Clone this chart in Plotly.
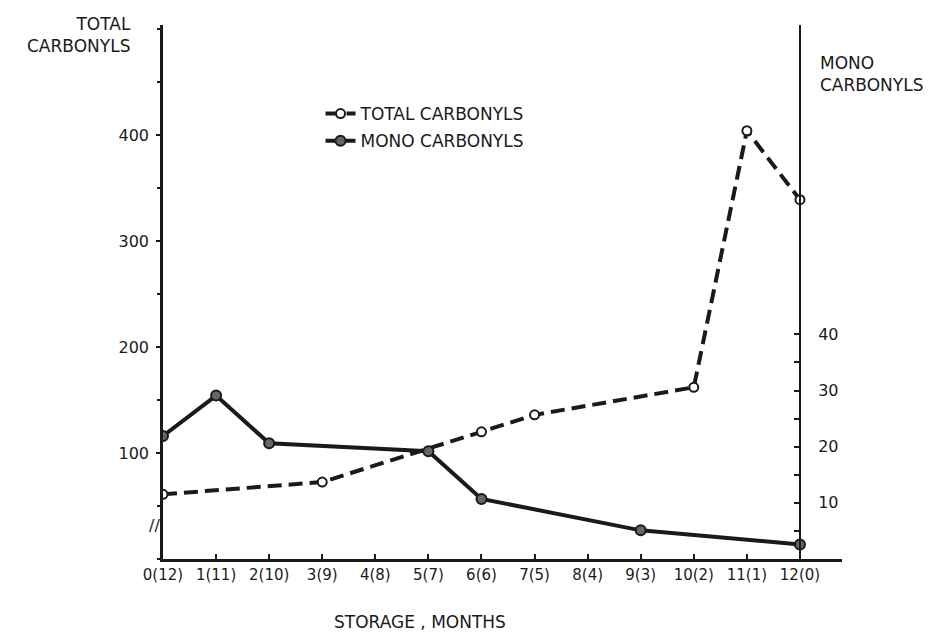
import plotly.graph_objects as go

# ---- data ----
month_ticks = list(range(13))
month_labels = ["0(12)", "1(11)", "2(10)", "3(9)", "4(8)", "5(7)", "6(6)",
                "7(5)", "8(4)", "9(3)", "10(2)", "11(1)", "12(0)"]

total_x = [0, 3, 6, 7, 10, 11, 12]
total_y = [61, 72.6, 120, 136, 162, 404, 339]

mono_x = [0, 1, 2, 5, 6, 9, 12]
mono_y = [21.9, 29.1, 20.6, 19.2, 10.7, 5.1, 2.6]

left_ticks = [100, 200, 300, 400]
right_ticks = [10, 20, 30, 40]
right_tick_marks = [5, 10, 15, 20, 25, 30, 35, 40]

FONT = "DejaVu Sans"
INK = "#1a1a1a"

fig = go.Figure()

fig.add_trace(go.Scatter(
    x=total_x, y=total_y, name="TOTAL CARBONYLS", mode="lines+markers",
    legendgroup="total",
    line=dict(color=INK, width=4, dash="14px,7px"),
    marker=dict(symbol="circle", size=9, color="white",
                line=dict(color=INK, width=2)),
    yaxis="y"))

fig.add_trace(go.Scatter(
    x=mono_x, y=mono_y, name="MONO CARBONYLS", mode="lines+markers",
    legendgroup="mono",
    line=dict(color=INK, width=4),
    marker=dict(symbol="circle", size=10, color="#666666",
                line=dict(color=INK, width=2)),
    yaxis="y2"))

PW = 679.0   # plot width in px
PH = 534.0   # plot height in px

fig.update_layout(
    width=931, height=625,
    margin=dict(l=155, r=97, t=17, b=74),
    paper_bgcolor="white", plot_bgcolor="white",
    font=dict(family=FONT, size=15, color=INK),
    showlegend=True,
    legend=dict(x=0.232, y=1 - (96 - 25) / PH, xanchor="left", yanchor="top",
                bgcolor="rgba(0,0,0,0)", font=dict(size=17, family=FONT),
                traceorder="grouped", tracegroupgap=2),
    xaxis=dict(
        range=[0, PW / 53.08], tickmode="array", tickvals=month_ticks,
        ticktext=month_labels, ticks="inside", ticklen=5, tickwidth=2,
        tickcolor=INK, showline=True, linecolor=INK, linewidth=2.5,
        showgrid=False, zeroline=False, tickfont=dict(size=15),
    ),
    yaxis=dict(
        range=[0, PH / 1.06], tickmode="array", tickvals=left_ticks,
        ticks="outside", ticklen=4, tickwidth=2, tickcolor=INK,
        showline=True, linecolor=INK, linewidth=2.5, showgrid=False,
        zeroline=False, tickfont=dict(size=16), ticklabelstandoff=4,
        minor=dict(dtick=50, ticks="outside", ticklen=3, tickcolor=INK,
                   showgrid=False),
    ),
    yaxis2=dict(
        overlaying="y", anchor="free", side="right", position=637 / PW,
        domain=[0, 0.944], range=[0, 504 / 5.3], tickmode="array",
        tickvals=right_tick_marks,
        ticktext=[str(v) if v in right_ticks else "" for v in right_tick_marks],
        ticks="inside", ticklen=5, tickwidth=2,
        tickcolor=INK, showline=True, linecolor=INK, linewidth=2,
        showgrid=False, zeroline=False, tickfont=dict(size=16),
        ticklabelstandoff=14,
    ),
    annotations=[
        dict(text="TOTAL<br>CARBONYLS", xref="paper", yref="paper",
             x=-0.044, y=1.024, xanchor="right", yanchor="top", align="right",
             showarrow=False, font=dict(size=17, family=FONT)),
        dict(text="MONO<br>CARBONYLS", xref="paper", yref="paper",
             x=0.965, y=0.952, xanchor="left", yanchor="top", align="left",
             showarrow=False, font=dict(size=17, family=FONT)),
        dict(text="STORAGE , MONTHS", xref="paper", yref="paper",
             x=0.3785, y=-0.118, xanchor="center", yanchor="middle",
             showarrow=False, font=dict(size=17, family=FONT)),
        dict(text="//", xref="paper", yref="y", x=-0.012, y=32,
             xanchor="center", yanchor="middle", showarrow=False,
             font=dict(size=16, family=FONT)),
    ],
)

fig.write_html("out.html")
